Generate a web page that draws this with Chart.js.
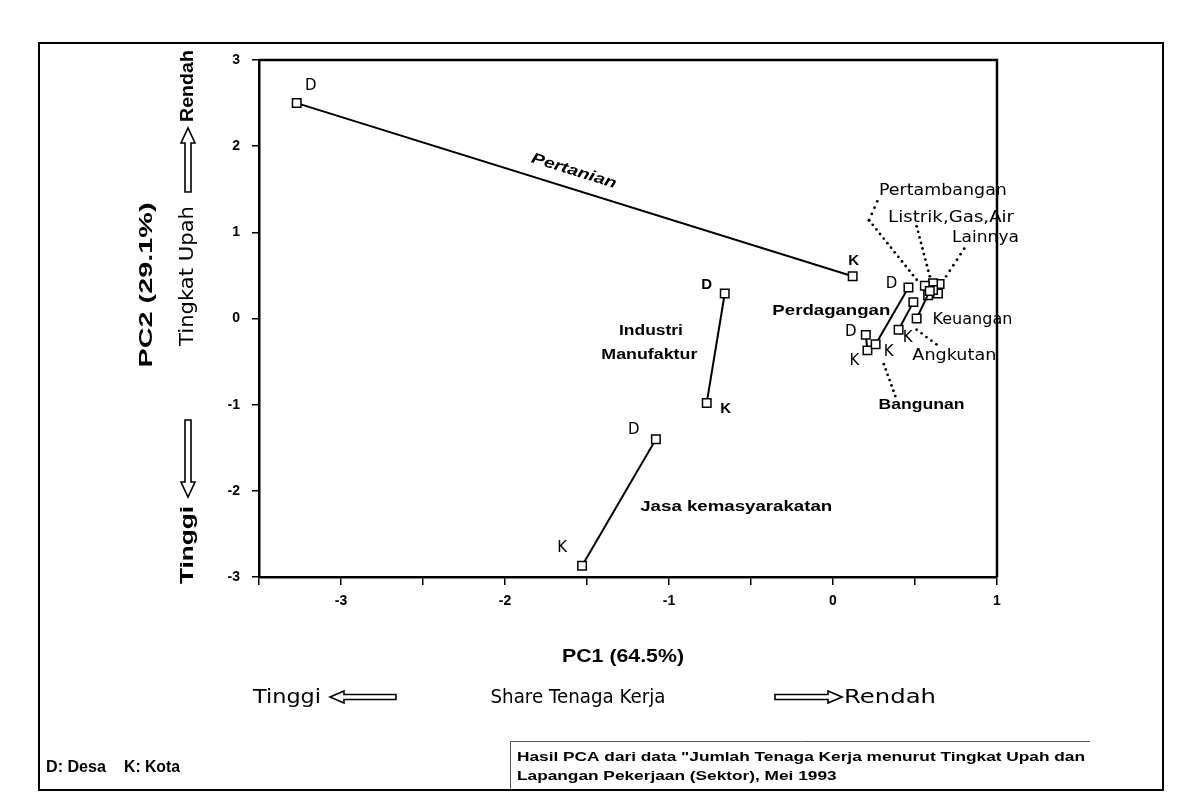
<!DOCTYPE html>
<html><head><meta charset="utf-8">
<script src="https://cdn.jsdelivr.net/npm/chart.js@4.4.1/dist/chart.umd.min.js"></script>
<style>html,body{margin:0;padding:0;background:#fff}#wrap{width:1178px;height:809px;position:relative}</style>
</head><body><div id="wrap"><canvas id="c" width="1178" height="809"></canvas></div>
<script>
// ---- data ----
const sectors = ['Pertanian','Industri Manufaktur','Jasa kemasyarakatan','Perdagangan','Bangunan','Angkutan','Keuangan','Pertambangan','Listrik, Gas, Air','Lainnya'];
const pc1Desa = [-3.27, -0.66, -1.08, 0.46, 0.20, 0.49, 0.59, 0.56, 0.61, 0.65];
const pc2Desa = [ 2.50,  0.29, -1.40, 0.36, -0.19, 0.19, 0.32, 0.38, 0.41, 0.40];
const pc1Kota = [ 0.12, -0.77, -1.53, 0.26, 0.21, 0.40, 0.51, 0.61, 0.64, 0.58];
const pc2Kota = [ 0.49, -0.98, -2.87, -0.30, -0.37, -0.13, 0.00, 0.33, 0.29, 0.27];
const xTickLabels = [-3, -2, -1, 0, 1];
const yTickLabels = [-3, -2, -1, 0, 1, 2, 3];

const BOLD = '"Liberation Sans", Arial, sans-serif';
const ODD = '"DejaVu Sans", sans-serif';

const datasets = sectors.map((s, i) => ({
  label: s,
  data: [{x: pc1Desa[i], y: pc2Desa[i]}, {x: pc1Kota[i], y: pc2Kota[i]}],
  showLine: true,
  borderColor: '#000',
  borderWidth: 2,
  pointStyle: 'rect',
  pointRadius: 6,
  pointBackgroundColor: '#fff',
  pointBorderColor: '#000',
  pointBorderWidth: 1.5
}));

function fitText(ctx, txt, cx, cy, w, font, rot) {
  ctx.save();
  ctx.font = font;
  const m = ctx.measureText(txt).width;
  ctx.translate(cx, cy);
  if (rot) ctx.rotate(rot);
  ctx.scale(w / m, 1);
  ctx.textAlign = 'center';
  ctx.textBaseline = 'middle';
  ctx.fillStyle = '#000';
  ctx.fillText(txt, 0, 0);
  ctx.restore();
}
function plainText(ctx, txt, x, y, font, align) {
  ctx.save();
  ctx.font = font; ctx.textAlign = align || 'center'; ctx.textBaseline = 'middle'; ctx.fillStyle = '#000';
  ctx.fillText(txt, x, y);
  ctx.restore();
}
function hollowArrow(ctx, x1, y1, x2, y2, bh, hh, hl) {
  const dx = x2 - x1, dy = y2 - y1, L = Math.hypot(dx, dy);
  const ux = dx / L, uy = dy / L, nx = -uy, ny = ux;
  const bx = x2 - ux * hl, by = y2 - uy * hl;
  ctx.save();
  ctx.beginPath();
  ctx.moveTo(x1 + nx * bh, y1 + ny * bh);
  ctx.lineTo(bx + nx * bh, by + ny * bh);
  ctx.lineTo(bx + nx * hh, by + ny * hh);
  ctx.lineTo(x2, y2);
  ctx.lineTo(bx - nx * hh, by - ny * hh);
  ctx.lineTo(bx - nx * bh, by - ny * bh);
  ctx.lineTo(x1 - nx * bh, y1 - ny * bh);
  ctx.closePath();
  ctx.fillStyle = '#fff'; ctx.fill();
  ctx.lineWidth = 1.6; ctx.strokeStyle = '#000'; ctx.stroke();
  ctx.restore();
}

// point label offsets in px: [sectorIndex, 'D'|'K', dx, dy, bold]
const pointLabels = [
  [0, 'D', 14, -17, false], [0, 'K', 1, -15, true],
  [1, 'D', -18, -9, true], [1, 'K', 19, 6, true],
  [2, 'D', -22, -9, false], [2, 'K', -20, -18, false],
  [3, 'D', -17, -3, false], [3, 'K', 13, 8, false],
  [4, 'D', -15, -3, false], [4, 'K', -13, 11, false],
  [5, 'K', 9, 8, false]
];
// free labels in data coordinates
const freeLabels = [
  {t: 'Pertanian', x: -1.58, y: 1.71, w: 88, f: 'italic bold 15px ' + BOLD, rot: 0.30},
  {t: 'Industri', x: -1.11, y: -0.15, w: 64, f: 'bold 14px ' + BOLD},
  {t: 'Manufaktur', x: -1.12, y: -0.42, w: 96, f: 'bold 14px ' + BOLD},
  {t: 'Jasa kemasyarakatan', x: -0.59, y: -2.19, w: 192, f: 'bold 14px ' + BOLD},
  {t: 'Perdagangan', x: -0.01, y: 0.09, w: 118, f: 'bold 14px ' + BOLD},
  {t: 'Bangunan', x: 0.54, y: -1.0, w: 86, f: 'bold 14px ' + BOLD},
  {t: 'Pertambangan', x: 0.67, y: 1.48, w: 128, f: '15px ' + ODD},
  {t: 'Listrik,Gas,Air', x: 0.72, y: 1.16, w: 126, f: '15px ' + ODD},
  {t: 'Lainnya', x: 0.93, y: 0.93, w: 67, f: '15px ' + ODD},
  {t: 'Keuangan', x: 0.85, y: -0.02, w: 80, f: '15px ' + ODD},
  {t: 'Angkutan', x: 0.74, y: -0.44, w: 84, f: '15px ' + ODD}
];
// dotted leader lines in data coordinates
const leaders = [
  [[0.27, 1.36], [0.22, 1.14], [0.51, 0.45]],
  [[0.51, 1.07], [0.59, 0.49]],
  [[0.80, 0.81], [0.69, 0.49]],
  [[0.51, -0.13], [0.63, -0.30]],
  [[0.31, -0.53], [0.38, -0.90]]
];

const decor = {
  id: 'decor',
  beforeDraw(chart) {
    const ctx = chart.ctx;
    ctx.save(); ctx.fillStyle = '#fff'; ctx.fillRect(0, 0, chart.width, chart.height); ctx.restore();
  },
  afterDraw(chart) {
    const ctx = chart.ctx, xs = chart.scales.x, ys = chart.scales.y, a = chart.chartArea;
    // plot box top and right
    ctx.save();
    ctx.strokeStyle = '#000'; ctx.lineWidth = 2.5;
    ctx.beginPath(); ctx.moveTo(a.left, a.top); ctx.lineTo(a.right, a.top); ctx.lineTo(a.right, a.bottom); ctx.stroke();
    ctx.restore();
    // leaders
    ctx.save();
    ctx.fillStyle = '#000';
    leaders.forEach(pts => {
      for (let k = 0; k < pts.length - 1; k++) {
        const x1 = xs.getPixelForValue(pts[k][0]), y1 = ys.getPixelForValue(pts[k][1]);
        const x2 = xs.getPixelForValue(pts[k+1][0]), y2 = ys.getPixelForValue(pts[k+1][1]);
        const L = Math.hypot(x2 - x1, y2 - y1), n = Math.max(1, Math.round(L / 6));
        for (let j = 0; j <= n; j++) {
          const t = j / n;
          ctx.beginPath(); ctx.arc(x1 + (x2 - x1) * t, y1 + (y2 - y1) * t, 1.4, 0, Math.PI * 2); ctx.fill();
        }
      }
    });
    ctx.restore();
    // point labels
    pointLabels.forEach(([i, w, dx, dy, b]) => {
      const px = xs.getPixelForValue(w === 'D' ? pc1Desa[i] : pc1Kota[i]);
      const py = ys.getPixelForValue(w === 'D' ? pc2Desa[i] : pc2Kota[i]);
      plainText(ctx, w, px + dx, py + dy, (b ? 'bold 15px ' + BOLD : '15px ' + ODD));
    });
    // free labels
    freeLabels.forEach(l => {
      fitText(ctx, l.t, xs.getPixelForValue(l.x), ys.getPixelForValue(l.y), l.w, l.f, l.rot || 0);
    });
    // y axis titles
    const R = -Math.PI / 2;
    fitText(ctx, 'PC2 (29.1%)', 147, 285, 165, 'bold 19px ' + BOLD, R);
    fitText(ctx, 'Rendah', 188, 86, 72, 'bold 19px ' + BOLD, R);
    hollowArrow(ctx, 188, 192, 188, 128, 3, 7, 15);
    fitText(ctx, 'Tingkat Upah', 188, 276, 140, '19px ' + ODD, R);
    hollowArrow(ctx, 188, 420, 188, 497, 3, 7, 15);
    fitText(ctx, 'Tinggi', 188, 545, 78, 'bold 19px ' + BOLD, R);
    // x axis titles
    fitText(ctx, 'PC1 (64.5%)', 623, 657, 122, 'bold 19px ' + BOLD);
    fitText(ctx, 'Tinggi', 287, 698, 68, '20px ' + ODD);
    hollowArrow(ctx, 396, 697, 330, 697, 2.5, 6, 14);
    fitText(ctx, 'Share Tenaga Kerja', 578, 698, 175, '20px ' + ODD);
    hollowArrow(ctx, 775, 697, 842, 697, 2.5, 6, 14);
    fitText(ctx, 'Rendah', 890, 698, 92, '20px ' + ODD);
    // legend note
    fitText(ctx, 'D: Desa', 76, 768, 60, 'bold 16px ' + BOLD);
    fitText(ctx, 'K: Kota', 152, 768, 56, 'bold 16px ' + BOLD);
    // source box
    ctx.save();
    ctx.strokeStyle = '#555'; ctx.lineWidth = 1;
    ctx.beginPath(); ctx.moveTo(1090, 741.5); ctx.lineTo(510.5, 741.5); ctx.lineTo(510.5, 790); ctx.stroke();
    ctx.restore();
    ctx.save();
    ctx.font = 'bold 12px ' + BOLD;
    const s1 = 'Hasil PCA dari data "Jumlah Tenaga Kerja menurut Tingkat Upah dan';
    const s2 = 'Lapangan Pekerjaan (Sektor), Mei 1993';
    const k = 568 / ctx.measureText(s1).width;
    ctx.translate(517, 0); ctx.scale(k, 1);
    ctx.textBaseline = 'middle'; ctx.fillStyle = '#000';
    ctx.fillText(s1, 0, 758); ctx.fillText(s2, 0, 777);
    ctx.restore();
    // outer frame
    ctx.save();
    ctx.strokeStyle = '#000'; ctx.lineWidth = 2;
    ctx.strokeRect(39, 43, 1124, 747);
    ctx.restore();
  }
};

new Chart(document.getElementById('c'), {
  type: 'scatter',
  data: { datasets },
  options: {
    responsive: false,
    animation: false,
    layout: { padding: { left: 0, top: 60, right: 181, bottom: 0 } },
    plugins: { legend: { display: false }, tooltip: { enabled: false } },
    scales: {
      x: {
        type: 'linear', min: -3.5, max: 1,
        ticks: { stepSize: 0.5, color: '#000', padding: 8,
          font: { family: BOLD, size: 14, weight: 'bold' },
          callback: v => xTickLabels.includes(v) ? String(v) : '' },
        grid: { drawOnChartArea: false, drawTicks: true, tickLength: 8, color: '#000', lineWidth: 1.5 },
        border: { display: true, color: '#000', width: 2.5 },
        afterFit: s => { s.height = 232; }
      },
      y: {
        type: 'linear', min: -3, max: 3,
        ticks: { stepSize: 1, color: '#000', padding: 12,
          font: { family: BOLD, size: 14, weight: 'bold' },
          callback: v => yTickLabels.includes(v) ? String(v) : '' },
        grid: { drawOnChartArea: false, drawTicks: true, tickLength: 7, color: '#000', lineWidth: 1.5 },
        border: { display: true, color: '#000', width: 2.5 },
        afterFit: s => { s.width = 259; }
      }
    }
  },
  plugins: [decor]
});
</script></body></html>
